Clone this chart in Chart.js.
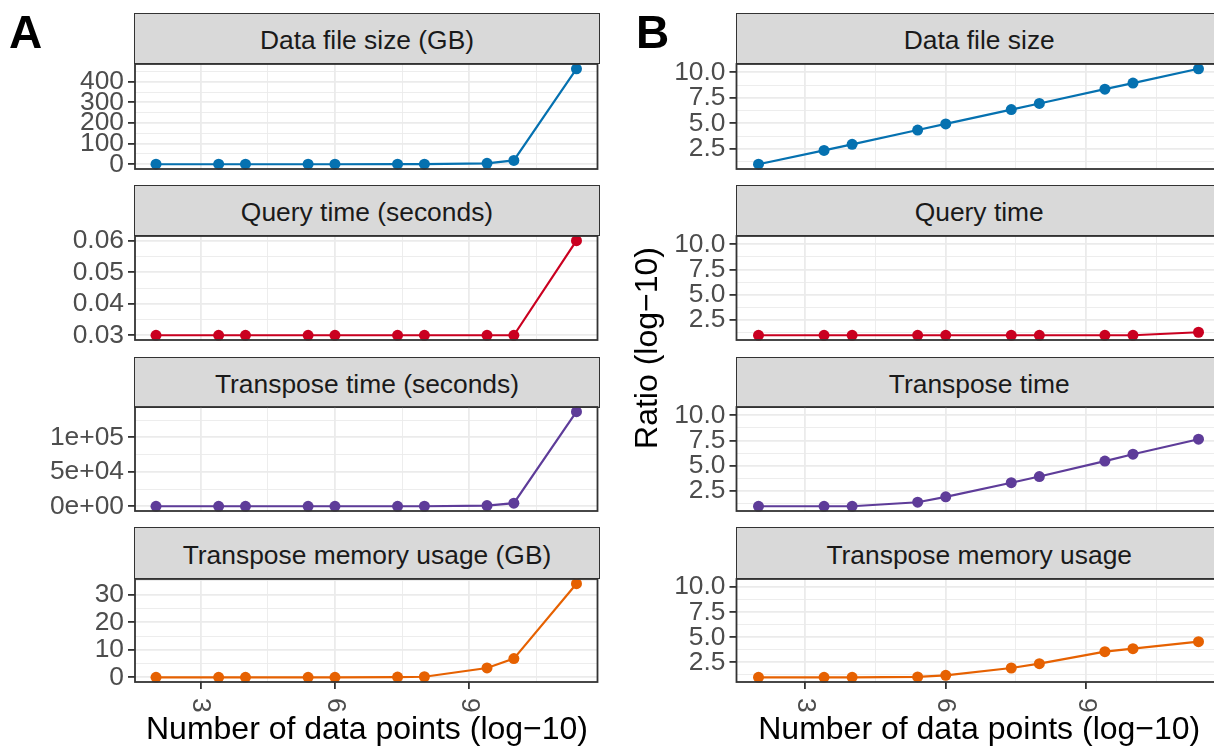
<!DOCTYPE html>
<html><head><meta charset="utf-8">
<script src="https://cdn.jsdelivr.net/npm/chart.js@4.4.1/dist/chart.umd.min.js"></script>
<style>
html,body{margin:0;padding:0;background:#fff;}
body{width:1214px;height:749px;overflow:hidden;position:relative;font-family:'Liberation Sans',Arial,Helvetica,sans-serif;}
.strip{position:absolute;box-sizing:border-box;background:#D9D9D9;border:1.8px solid #333333;display:flex;align-items:center;justify-content:center;color:#1A1A1A;font-size:26.4px;white-space:nowrap;padding-top:4px;}
canvas{position:absolute;}
.txt{position:absolute;white-space:nowrap;}
</style></head><body>
<script>
// ---------- data ----------
const xValues = [2, 3.4, 4, 5.4, 6, 7.4, 8, 9.4, 10, 11.4];   // log10(number of data points)
const xMajorTicks = [3, 6, 9];
const xTickLabels = ['3', '6', '9'];

// Panel A: raw values
const panelTitlesA = ['Data file size (GB)', 'Query time (seconds)', 'Transpose time (seconds)', 'Transpose memory usage (GB)'];
const fileSizeGB      = [0.0000002, 0.000005, 0.00002, 0.0005, 0.002, 0.05, 0.19, 4.6, 18.5, 463];
const queryTimeSec    = [0.03, 0.03, 0.03, 0.03, 0.03, 0.03, 0.03, 0.03, 0.03, 0.06];
const transposeTimeSec= [0.03, 0.03, 0.03, 0.08, 0.27, 6.8, 28, 940, 4500, 137000];
const transposeMemGB  = [0.0094, 0.0094, 0.0094, 0.0102, 0.0148, 0.08, 0.214, 3.4, 6.8, 34];

const fileSizeTicks = [0, 100, 200, 300, 400];
const fileSizeTickLabels = ['0', '100', '200', '300', '400'];
const queryTimeTicks = [0.03, 0.04, 0.05, 0.06];
const queryTimeTickLabels = ['0.03', '0.04', '0.05', '0.06'];
const transposeTimeTicks = [0, 50000, 100000];
const transposeTimeTickLabels = ['0e+00', '5e+04', '1e+05'];
const transposeMemTicks = [0, 10, 20, 30];
const transposeMemTickLabels = ['0', '10', '20', '30'];

// Panel B: log10 ratios
const panelTitlesB = ['Data file size', 'Query time', 'Transpose time', 'Transpose memory usage'];
const fileSizeRatio      = [1.0, 2.35, 2.95, 4.35, 4.95, 6.35, 6.95, 8.35, 8.95, 10.35];
const queryTimeRatio     = [1.0, 1.0, 1.0, 1.0, 1.0, 1.0, 1.0, 1.0, 1.0, 1.3];
const transposeTimeRatio = [1.0, 1.0, 1.0, 1.4, 1.93, 3.33, 3.94, 5.47, 6.15, 7.63];
const transposeMemRatio  = [1.0, 1.0, 1.0, 1.04, 1.2, 1.93, 2.36, 3.56, 3.86, 4.56];
const ratioTicks = [2.5, 5, 7.5, 10];
const ratioTickLabels = ['2.5', '5.0', '7.5', '10.0'];

const seriesColors = ['#0571B0', '#CA0020', '#5E3C99', '#E66101'];

const xTitle = 'Number of data points (log\u221210)';
const yTitleB = 'Ratio (log\u221210)';

// ---------- layout ----------
const FONT = "'Liberation Sans', Arial, Helvetica, sans-serif";
const TICK_FONT_SIZE = 26.4;
const stripTops   = [14, 186, 357.5, 528];
const plotTops    = [63.5, 235.5, 407, 578.5];
const plotBottoms = [168, 339, 510.5, 681.5];
const colArea = [[135, 599], [736.5, 1222]];
const colCanvasLeft = [0, 610];

function expand(vals) {
  const lo = Math.min(...vals), hi = Math.max(...vals), d = (hi - lo) * 0.05;
  return [lo - d, hi + d];
}
function minorsOf(majors, lo, hi) {
  const d = majors[1] - majors[0], out = [];
  for (let k = -1; k < majors.length; k++) {
    const v = majors[0] + (k + 0.5) * d;
    if (v >= lo && v <= hi) out.push(v);
  }
  return out;
}
function isMajor(v, majors) {
  const d = Math.abs(majors[1] - majors[0]);
  return majors.some(m => Math.abs(m - v) < d * 1e-6);
}
function labelFor(v, majors, labels) {
  const d = Math.abs(majors[1] - majors[0]);
  const i = majors.findIndex(m => Math.abs(m - v) < d * 1e-6);
  return i >= 0 ? labels[i] : '';
}

const xRange = expand(xValues);
const xAllTicks = xMajorTicks.concat(minorsOf(xMajorTicks, xRange[0], xRange[1])).sort((a, b) => a - b);
const ratioRange = expand([].concat(fileSizeRatio, queryTimeRatio, transposeTimeRatio, transposeMemRatio));

const decor = {
  id: 'decor',
  afterDraw(chart, args, o) {
    const ctx = chart.ctx, a = chart.chartArea;
    ctx.save();
    ctx.strokeStyle = '#333333';
    ctx.lineWidth = 1.8;
    ctx.strokeRect(a.left, a.top, a.right - a.left, a.bottom - a.top);
    if (o.bottomRow) {
      ctx.fillStyle = '#4D4D4D';
      ctx.font = TICK_FONT_SIZE + 'px ' + FONT;
      ctx.textAlign = 'left';
      ctx.textBaseline = 'middle';
      xMajorTicks.forEach((v, i) => {
        const px = chart.scales.x.getPixelForValue(v);
        ctx.save();
        ctx.translate(px, a.bottom + 16);
        ctx.rotate(Math.PI / 2);
        ctx.fillText(xTickLabels[i], 0, 0);
        ctx.restore();
      });
    }
    ctx.restore();
  }
};

const panels = [
  {col: 0, row: 0, title: panelTitlesA[0], values: fileSizeGB, ticks: fileSizeTicks, labels: fileSizeTickLabels},
  {col: 0, row: 1, title: panelTitlesA[1], values: queryTimeSec, ticks: queryTimeTicks, labels: queryTimeTickLabels},
  {col: 0, row: 2, title: panelTitlesA[2], values: transposeTimeSec, ticks: transposeTimeTicks, labels: transposeTimeTickLabels},
  {col: 0, row: 3, title: panelTitlesA[3], values: transposeMemGB, ticks: transposeMemTicks, labels: transposeMemTickLabels},
  {col: 1, row: 0, title: panelTitlesB[0], values: fileSizeRatio, ticks: ratioTicks, labels: ratioTickLabels, range: ratioRange},
  {col: 1, row: 1, title: panelTitlesB[1], values: queryTimeRatio, ticks: ratioTicks, labels: ratioTickLabels, range: ratioRange},
  {col: 1, row: 2, title: panelTitlesB[2], values: transposeTimeRatio, ticks: ratioTicks, labels: ratioTickLabels, range: ratioRange},
  {col: 1, row: 3, title: panelTitlesB[3], values: transposeMemRatio, ticks: ratioTicks, labels: ratioTickLabels, range: ratioRange},
];

function addText(text, css) {
  const d = document.createElement('div');
  d.className = 'txt';
  d.textContent = text;
  Object.assign(d.style, css);
  document.body.appendChild(d);
  return d;
}

panels.forEach(p => {
  const [areaL, areaR] = colArea[p.col];
  const left = colCanvasLeft[p.col];
  const bottomRow = p.row === 3;
  const color = seriesColors[p.row];
  const plotTop = plotTops[p.row], plotBot = plotBottoms[p.row];

  // strip
  const s = document.createElement('div');
  s.className = 'strip';
  s.textContent = p.title;
  Object.assign(s.style, {
    left: (areaL - 0.9) + 'px', top: (stripTops[p.row] - 0.9) + 'px',
    width: (areaR - areaL + 1.8) + 'px', height: (plotTop - stripTops[p.row] + 1.8) + 'px'
  });
  document.body.appendChild(s);

  // canvas
  const padT = 16, padR = 4, padB = bottomRow ? 40 : 16, xH = bottomRow ? 7 : 0;
  const W = Math.round(areaR - left + padR);
  const H = Math.round(plotBot - plotTop + padT + padB + xH);
  const cv = document.createElement('canvas');
  cv.width = W; cv.height = H;
  Object.assign(cv.style, {left: left + 'px', top: (plotTop - padT) + 'px', width: W + 'px', height: H + 'px'});
  document.body.appendChild(cv);

  const yr = p.range || expand(p.values);
  const yAll = p.ticks.concat(minorsOf(p.ticks, yr[0], yr[1])).sort((a, b) => a - b);
  const yAxisW = areaL - left;

  new Chart(cv, {
    type: 'line',
    data: {
      datasets: [{
        data: xValues.map((x, i) => ({x: x, y: p.values[i]})),
        borderColor: color, backgroundColor: color,
        borderWidth: 2.2, pointRadius: 5.5, pointHoverRadius: 5.5, pointBorderWidth: 0,
        tension: 0, clip: false
      }]
    },
    options: {
      responsive: false, animation: false, events: [], devicePixelRatio: 1,
      layout: {padding: {top: padT, right: padR, bottom: padB, left: 0}},
      plugins: {legend: {display: false}, tooltip: {enabled: false}, decor: {bottomRow: bottomRow}},
      scales: {
        x: {
          type: 'linear', min: xRange[0], max: xRange[1],
          border: {display: false},
          afterBuildTicks: sc => { sc.ticks = xAllTicks.map(v => ({value: v})); },
          ticks: {display: false, autoSkip: false},
          grid: {
            color: '#EBEBEB',
            lineWidth: c => isMajor(c.tick.value, xMajorTicks) ? 1.8 : 0.9,
            drawTicks: bottomRow, tickLength: 7, tickWidth: 1.8,
            tickColor: c => isMajor(c.tick.value, xMajorTicks) ? '#333333' : 'rgba(0,0,0,0)'
          },
          afterFit: sc => { sc.height = xH; sc.paddingLeft = 0; sc.paddingRight = 0; }
        },
        y: {
          type: 'linear', min: yr[0], max: yr[1],
          border: {display: false},
          afterBuildTicks: sc => { sc.ticks = yAll.map(v => ({value: v})); },
          ticks: {
            display: true, autoSkip: false, padding: 4, color: '#4D4D4D',
            font: {family: FONT, size: TICK_FONT_SIZE},
            callback: v => labelFor(v, p.ticks, p.labels)
          },
          grid: {
            color: '#EBEBEB',
            lineWidth: c => isMajor(c.tick.value, p.ticks) ? 1.8 : 0.9,
            drawTicks: true, tickLength: 7, tickWidth: 1.8,
            tickColor: c => isMajor(c.tick.value, p.ticks) ? '#333333' : 'rgba(0,0,0,0)'
          },
          afterFit: sc => { sc.width = yAxisW; sc.paddingTop = 0; sc.paddingBottom = 0; }
        }
      }
    },
    plugins: [decor]
  });
});

// panel letters
addText('A', {left: '9px', top: (48 - 0.8465 * 46) + 'px', fontSize: '46px', lineHeight: '46px', fontWeight: 'bold', color: '#000'});
addText('B', {left: '636px', top: (48 - 0.8465 * 46) + 'px', fontSize: '46px', lineHeight: '46px', fontWeight: 'bold', color: '#000'});

// axis titles
colArea.forEach(([l, r]) => {
  const c = (l + r) / 2;
  addText(xTitle, {left: (c - 300) + 'px', width: '600px', textAlign: 'center', top: (739 - 0.8465 * 32) + 'px', fontSize: '32px', lineHeight: '32px', color: '#000'});
});
addText(yTitleB, {left: (646 - 150) + 'px', top: (348 - 16) + 'px', width: '300px', textAlign: 'center', fontSize: '32px', lineHeight: '32px', color: '#000', transform: 'rotate(-90deg)', transformOrigin: '50% 50%'});
</script>
</body></html>
